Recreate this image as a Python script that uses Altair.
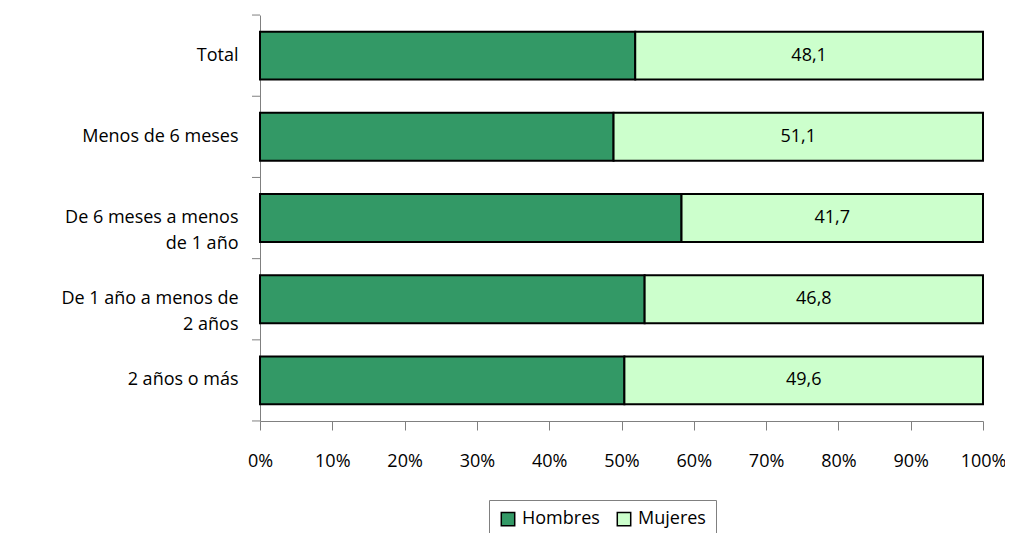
import altair as alt
import pandas as pd

categories = ["Total", "Menos de 6 meses", "De 6 meses a menos|de 1 año",
              "De 1 año a menos de|2 años", "2 años o más"]
hombres = [51.9, 48.9, 58.3, 53.2, 50.4]
mujeres = [48.1, 51.1, 41.7, 46.8, 49.6]
mujeres_labels = ["48,1", "51,1", "41,7", "46,8", "49,6"]
series = ["Hombres", "Mujeres"]
colors = ["#339966", "#CCFFCC"]

rows = []
for i, c in enumerate(categories):
    rows.append({"cat": c, "sexo": "Hombres", "ord": 0,
                 "start": 0.0, "end": hombres[i] / 100, "lab": ""})
    rows.append({"cat": c, "sexo": "Mujeres", "ord": 1,
                 "start": hombres[i] / 100, "end": 1.0, "lab": mujeres_labels[i]})
df = pd.DataFrame(rows)

FONT = "Open Sans"
FS = 18
yscale = alt.Scale(domain=categories, paddingInner=0.41, paddingOuter=0.205)

bars = alt.Chart(df).mark_bar(stroke="black", strokeWidth=2).encode(
    y=alt.Y("cat:N", sort=categories, scale=yscale, title=None,
            axis=alt.Axis(labelExpr="split(datum.label, '|')", ticks=False,
                          labelFontSize=FS, labelColor="black", labelFont=FONT,
                          labelPadding=22, domainColor="#808080", labelLimit=300,
                          labelLineHeight=26)),
    x=alt.X("start:Q", scale=alt.Scale(domain=[0, 1], nice=False), title=None,
            axis=alt.Axis(format="%", values=[i / 10 for i in range(11)],
                          grid=False, labelFontSize=FS, labelColor="black",
                          labelFont=FONT, domainColor="#808080", tickColor="#808080",
                          tickSize=9, labelPadding=22, labelFlush=False,
                          labelOverlap=False)),
    x2="end:Q",
    color=alt.Color("sexo:N", scale=alt.Scale(domain=series, range=colors),
                    legend=alt.Legend(title=None, orient="none", direction="horizontal",
                                      legendX=229, legendY=485,
                                      symbolType="square", symbolSize=180,
                                      symbolStrokeColor="black", symbolStrokeWidth=1.5,
                                      labelFontSize=FS, labelFont=FONT, labelColor="black",
                                      strokeColor="#808080", padding=10,
                                      columnPadding=14, labelOffset=5)),
)

ticks = alt.Chart(pd.DataFrame({"cat": categories})).mark_rule(
    color="#808080", yOffset=-16.6
).encode(
    y=alt.Y("cat:N", sort=categories, scale=yscale, bandPosition=0),
    x=alt.value(-8), x2=alt.value(0),
)

tick_end = alt.Chart(pd.DataFrame({"cat": categories[-1:]})).mark_rule(
    color="#808080", yOffset=16.6
).encode(
    y=alt.Y("cat:N", sort=categories, scale=yscale, bandPosition=1),
    x=alt.value(-8), x2=alt.value(0),
)

text = alt.Chart(df[df["sexo"] == "Mujeres"]).transform_calculate(
    mid="(datum.start + datum.end) / 2"
).mark_text(fontSize=FS, font=FONT, color="black").encode(
    y=alt.Y("cat:N", sort=categories, scale=yscale),
    x=alt.X("mid:Q"),
    text="lab:N",
)

chart = alt.layer(bars, ticks, tick_end, text).properties(
    width=723, height=406,
    padding={"left": 252, "top": 7, "right": 22, "bottom": 112},
    autosize=alt.AutoSizeParams(type="none"),
).configure_view(stroke=None).configure_axis(domainWidth=1)

chart.save("out.html", embed_options={"renderer": "svg", "actions": False})
